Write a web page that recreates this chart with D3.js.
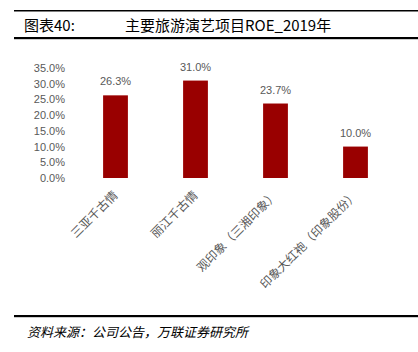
<!DOCTYPE html>
<html><head><meta charset="utf-8">
<script src="https://cdn.jsdelivr.net/npm/d3@7"></script>
<style>body{margin:0;background:#fff}svg{display:block}</style>
</head><body>
<script>
const categories = ["三亚千古情","丽江千古情","观印象（三湘印象）","印象大红袍（印象股份）"];
const values = [26.3, 31.0, 23.7, 10.0];
const yTicks = [0,5,10,15,20,25,30,35];
const titleLeft = "图表40:";
const titleMain = "主要旅游演艺项目ROE_2019年";
const source = "资料来源：公司公告，万联证券研究所";

const W=418,H=352;
const svg=d3.select("body").append("svg").attr("width",W).attr("height",H);
const cjk="'Noto Sans CJK SC','Liberation Serif',serif";

svg.append("rect").attr("x",14).attr("y",10).attr("width",404).attr("height",1.5).attr("fill","#000");
svg.append("rect").attr("x",14).attr("y",37).attr("width",404).attr("height",2.2).attr("fill","#000");
svg.append("text").attr("x",24).attr("y",31).attr("font-family",cjk).attr("font-size",15).attr("fill","#000").text(titleLeft);
svg.append("text").attr("x",125).attr("y",31).attr("font-family",cjk).attr("font-size",15).attr("fill","#000").text(titleMain);

svg.append("rect").attr("x",14).attr("y",315).attr("width",404).attr("height",2.2).attr("fill","#000");
svg.append("text").attr("x",27).attr("y",337).attr("font-family",cjk).attr("font-size",13).attr("font-style","italic").attr("fill","#000").text(source);

const x=d3.scaleBand().domain(categories).range([75.5,395.5]).paddingInner(0.69).paddingOuter(0.345);
const y=d3.scaleLinear().domain([0,35]).range([178,68]);

const gy=svg.append("g").attr("transform","translate(70,0)")
  .call(d3.axisLeft(y).tickValues(yTicks).tickSize(0).tickPadding(5).tickFormat(d=>d3.format(".1f")(d)+"%"));
gy.select(".domain").remove();
gy.selectAll("text").attr("font-family","'Liberation Sans',Arial,sans-serif").attr("font-size",11).attr("fill","#595959");

svg.selectAll("rect.bar").data(values).join("rect").attr("class","bar")
  .attr("x",(d,i)=>x(categories[i])).attr("width",x.bandwidth())
  .attr("y",d=>y(d)).attr("height",d=>y(0)-y(d)).attr("fill","#990000");

svg.selectAll("text.val").data(values).join("text").attr("class","val")
  .attr("x",(d,i)=>x(categories[i])+x.bandwidth()/2).attr("y",d=>y(d)-10)
  .attr("text-anchor","middle").attr("font-family","'Liberation Sans',Arial,sans-serif").attr("font-size",11).attr("fill","#595959")
  .text(d=>d3.format(".1f")(d)+"%");

const gx=svg.append("g").attr("transform","translate(0,178)")
  .call(d3.axisBottom(x).tickSize(0).tickPadding(0));
gx.select(".domain").remove();
gx.selectAll("text").attr("font-family",cjk).attr("font-size",12).attr("fill","#595959")
  .attr("text-anchor","end").attr("dy",0)
  .attr("transform","translate(3,18) rotate(-45)");
</script>
</body></html>
